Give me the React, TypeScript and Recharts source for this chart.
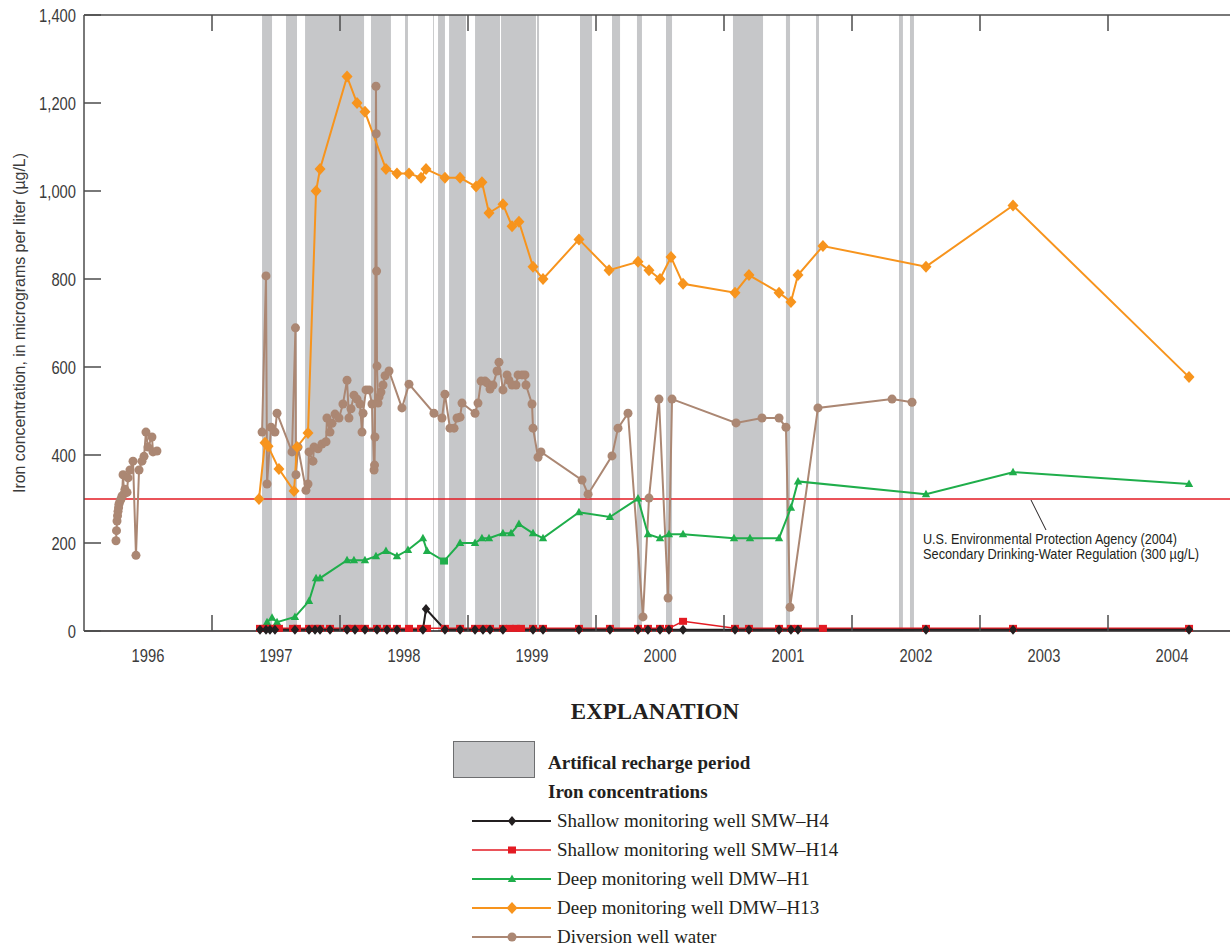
import React from 'react';
import { ComposedChart, Line, XAxis, YAxis, ReferenceArea, ReferenceLine } from 'recharts';

/* Iron concentrations in monitoring wells and diversion well water, 1996-2004.
   Dates are decimal years, values in micrograms per liter. */

const YEAR_TICKS = [1996, 1997, 1998, 1999, 2000, 2001, 2002, 2003, 2004];
const X_DOMAIN: [number, number] = [1996, 2005];
const Y_TICKS = [0, 200, 400, 600, 800, 1000, 1200, 1400];
const SMCL = 300; // secondary drinking-water regulation, µg/L

// artificial recharge periods [start, end]
const RECHARGE: [number, number][] = [
  [1997.391, 1997.469], [1997.578, 1997.664], [1997.727, 1998.188], [1998.242, 1998.398],
  [1998.508, 1998.531], [1998.727, 1998.734], [1998.766, 1998.82], [1998.852, 1998.984],
  [1999.055, 1999.25], [1999.258, 1999.531], [1999.539, 1999.555], [1999.875, 1999.969],
  [2000.125, 2000.188], [2000.32, 2000.359], [2000.547, 2000.594], [2001.07, 2001.305],
  [2001.484, 2001.516], [2001.719, 2001.742], [2002.367, 2002.398], [2002.453, 2002.484],
];

const SMW_H4: [number, number][] = [
  [1997.375, 3], [1997.422, 3], [1997.453, 3], [1997.492, 3], [1997.648, 3], [1997.758, 3],
  [1997.805, 3], [1997.844, 3], [1997.922, 3], [1998.055, 3], [1998.117, 3], [1998.195, 3],
  [1998.289, 3], [1998.367, 3], [1998.445, 3], [1998.648, 3], [1998.672, 50], [1998.82, 3],
  [1998.938, 3], [1999.055, 3], [1999.117, 3], [1999.172, 3], [1999.273, 3], [1999.508, 3],
  [1999.586, 3], [1999.867, 3], [2000.109, 3], [2000.328, 3], [2000.406, 3], [2000.5, 3],
  [2000.57, 3], [2000.68, 3], [2001.086, 3], [2001.195, 3], [2001.43, 3], [2001.523, 3],
  [2001.578, 3], [2002.578, 3], [2003.258, 3], [2004.633, 3],
];

const SMW_H14: [number, number][] = [
  [1997.375, 6], [1997.414, 6], [1997.453, 6], [1997.492, 6], [1997.523, 6], [1997.633, 6],
  [1997.664, 6], [1997.758, 6], [1997.805, 6], [1997.844, 6], [1997.922, 6], [1998.055, 6],
  [1998.094, 6], [1998.141, 6], [1998.195, 6], [1998.289, 6], [1998.367, 6], [1998.445, 6],
  [1998.539, 6], [1998.633, 6], [1998.68, 6], [1998.82, 6], [1998.938, 6], [1999.055, 6],
  [1999.117, 6], [1999.172, 6], [1999.273, 6], [1999.328, 6], [1999.375, 6], [1999.414, 6],
  [1999.508, 6], [1999.586, 6], [1999.867, 6], [2000.109, 6], [2000.328, 6], [2000.406, 6],
  [2000.5, 6], [2000.57, 6], [2000.68, 22], [2001.086, 6], [2001.195, 6], [2001.43, 6],
  [2001.523, 6], [2001.578, 6], [2001.773, 6], [2002.578, 6], [2003.258, 6], [2004.633, 6],
];

const DMW_H1: [number, number][] = [
  [1997.43, 20], [1997.469, 30], [1997.508, 20], [1997.648, 32], [1997.758, 68], [1997.813, 120],
  [1997.844, 120], [1998.055, 161], [1998.109, 161], [1998.195, 161], [1998.281, 170], [1998.359, 182],
  [1998.445, 170], [1998.531, 184], [1998.648, 211], [1998.68, 182], [1998.813, 159], [1998.938, 200],
  [1999.055, 200], [1999.109, 211], [1999.164, 211], [1999.273, 222], [1999.336, 222], [1999.398, 243],
  [1999.508, 222], [1999.586, 211], [1999.867, 270], [2000.109, 259], [2000.328, 301], [2000.406, 220],
  [2000.5, 211], [2000.57, 220], [2000.68, 220], [2001.078, 211], [2001.203, 211], [2001.43, 211],
  [2001.523, 280], [2001.578, 340], [2002.578, 311], [2003.258, 361], [2004.633, 334],
];
// one DMW-H1 sample plotted with a square symbol
const DMW_H1_SQUARE = [1998.813];

const DMW_H13: [number, number][] = [
  [1997.367, 300], [1997.414, 428], [1997.438, 420], [1997.523, 368], [1997.641, 318], [1997.664, 418],
  [1997.75, 450], [1997.813, 1000], [1997.844, 1050], [1998.055, 1260], [1998.133, 1200], [1998.195, 1180],
  [1998.359, 1050], [1998.445, 1040], [1998.539, 1040], [1998.633, 1030], [1998.672, 1050], [1998.82, 1030],
  [1998.938, 1030], [1999.063, 1010], [1999.109, 1020], [1999.164, 950], [1999.273, 970], [1999.344, 920],
  [1999.398, 930], [1999.508, 828], [1999.586, 800], [1999.867, 890], [2000.102, 820], [2000.328, 839],
  [2000.414, 820], [2000.5, 800], [2000.586, 850], [2000.68, 789], [2001.086, 769], [2001.195, 809],
  [2001.43, 769], [2001.523, 748], [2001.578, 809], [2001.773, 875], [2002.578, 828], [2003.258, 967],
  [2004.633, 577],
];

const DIVERSION: [number, number | null][] = [
  [1996.25, 205], [1996.254, 228], [1996.258, 250], [1996.262, 262], [1996.266, 272], [1996.27, 280],
  [1996.273, 288], [1996.281, 295], [1996.289, 300], [1996.297, 307], [1996.305, 355], [1996.313, 312],
  [1996.32, 322], [1996.336, 315], [1996.344, 348], [1996.359, 366], [1996.383, 386], [1996.406, 172],
  [1996.43, 366], [1996.453, 386], [1996.469, 397], [1996.484, 452], [1996.5, 418], [1996.531, 441],
  [1996.539, 407], [1996.57, 409], [1997.0, null],
  [1997.391, 452], [1997.422, 807], [1997.43, 334], [1997.461, 463], [1997.492, 452], [1997.508, 495],
  [1997.625, 407], [1997.652, 689], [1997.656, 355], [1997.672, 418], [1997.734, 320], [1997.75, 334],
  [1997.758, 407], [1997.789, 386], [1997.797, 418], [1997.828, 414], [1997.859, 425], [1997.891, 430],
  [1997.898, 484], [1997.922, 452], [1997.938, 472], [1997.961, 493], [1997.992, 484], [1998.023, 516],
  [1998.055, 570], [1998.07, 484], [1998.086, 505], [1998.109, 536], [1998.133, 527], [1998.156, 516],
  [1998.172, 452], [1998.18, 495], [1998.203, 548], [1998.227, 548], [1998.25, 516], [1998.266, 366],
  [1998.27, 377], [1998.273, 441], [1998.281, 1238], [1998.283, 1130], [1998.286, 818], [1998.289, 602],
  [1998.297, 518], [1998.305, 532], [1998.32, 543], [1998.336, 559], [1998.352, 580], [1998.383, 591],
  [1998.484, 507], [1998.539, 561], [1998.734, 495], [1998.797, 484], [1998.82, 538], [1998.859, 461],
  [1998.891, 461], [1998.914, 484], [1998.938, 486], [1998.953, 518], [1999.055, 495], [1999.078, 518],
  [1999.102, 568], [1999.133, 568], [1999.148, 564], [1999.172, 550], [1999.195, 559], [1999.227, 591],
  [1999.242, 611], [1999.273, 548], [1999.305, 582], [1999.32, 570], [1999.344, 559], [1999.375, 559],
  [1999.391, 582], [1999.422, 582], [1999.445, 582], [1999.453, 559], [1999.5, 516], [1999.508, 461],
  [1999.547, 395], [1999.57, 407], [1999.891, 343], [1999.938, 311], [2000.125, 398], [2000.172, 461],
  [2000.25, 495], [2000.367, 32], [2000.414, 302], [2000.492, 527], [2000.563, 75], [2000.594, 527],
  [2001.094, 473], [2001.297, 484], [2001.43, 484], [2001.484, 463], [2001.516, 54], [2001.734, 507],
  [2002.313, 527], [2002.469, 520],
];

const BLACK = '#231f20';
const RED = '#e31b23';
const GREEN = '#1fae4b';
const ORANGE = '#f7941d';
const BROWN = '#ab8773';
const BAND = '#c6c7c9';
const AXIS_GRAY = '#4d4d4d';
const TEXT_GRAY = '#3b3b3b';

// no condensed face is installed, so the sans labels are squeezed horizontally
const SANS = "'Liberation Sans', Arial, sans-serif";
const SQUEEZE = 0.82;
const SERIF = "'Liberation Serif', 'Times New Roman', serif";

const CHART_W = 1240;
const CHART_H = 680;
const LEFT_W = 84;
const RIGHT_W = 4;
const YEAR_PX = (CHART_W - LEFT_W - RIGHT_W) / (X_DOMAIN[1] - X_DOMAIN[0]);
const TICK_LEN = 16;

type Marker = 'diamond' | 'smallDiamond' | 'square' | 'triangle' | 'circle';

function drawMarker(kind: Marker, cx: number, cy: number, fill: string, key?: React.Key) {
  switch (kind) {
    case 'diamond':
      return <path key={key} d={`M${cx},${cy - 6}L${cx + 5.5},${cy}L${cx},${cy + 6}L${cx - 5.5},${cy}Z`} fill={fill} />;
    case 'smallDiamond':
      return <path key={key} d={`M${cx},${cy - 5}L${cx + 4.2},${cy}L${cx},${cy + 5}L${cx - 4.2},${cy}Z`} fill={fill} />;
    case 'square':
      return <rect key={key} x={cx - 4} y={cy - 3.5} width={8} height={7} fill={fill} />;
    case 'triangle':
      return <path key={key} d={`M${cx},${cy - 4.5}L${cx + 4.2},${cy + 3}L${cx - 4.2},${cy + 3}Z`} fill={fill} />;
    default:
      return <circle key={key} cx={cx} cy={cy} r={4.5} fill={fill} />;
  }
}

const dotOf = (kind: Marker, fill: string, squareAt: number[] = []) => (p: any) => {
  const { cx, cy, index, payload } = p;
  if (cx == null || cy == null || payload?.v == null || Number.isNaN(cy)) return <g key={index} />;
  const k = squareAt.includes(payload.t) ? 'square' : kind;
  return drawMarker(k, cx, cy, fill, index);
};

const rows = (pairs: [number, number | null][]) => pairs.map(([t, v]) => ({ t, v }));

const SERIES = [
  { key: 'div', name: 'Diversion well water', data: rows(DIVERSION), color: BROWN, marker: 'circle' as Marker, width: 2 },
  { key: 'h13', name: 'Deep monitoring well DMW\u2013H13', data: rows(DMW_H13), color: ORANGE, marker: 'diamond' as Marker, width: 2 },
  { key: 'h1', name: 'Deep monitoring well DMW\u2013H1', data: rows(DMW_H1), color: GREEN, marker: 'triangle' as Marker, width: 2 },
  { key: 'h14', name: 'Shallow monitoring well SMW\u2013H14', data: rows(SMW_H14), color: RED, marker: 'square' as Marker, width: 1.5 },
  { key: 'h4', name: 'Shallow monitoring well SMW\u2013H4', data: rows(SMW_H4), color: BLACK, marker: 'smallDiamond' as Marker, width: 2 },
];

// legend lists the wells top-down in the reverse of drawing order
const LEGEND_ORDER = ['h4', 'h14', 'h1', 'h13', 'div'];

function NarrowText({ x, y, anchor = 'start', size, fill = TEXT_GRAY, children }: any) {
  return (
    <text transform={`translate(${x} ${y}) scale(${SQUEEZE} 1)`} x={0} y={0} textAnchor={anchor}
      fontFamily={SANS} fontSize={size} fill={fill}>
      {children}
    </text>
  );
}

function BottomTick({ x, y, payload }: any) {
  const yr = payload.value;
  return (
    <g>
      {yr > X_DOMAIN[0] && <line x1={x} x2={x} y1={y} y2={y - TICK_LEN} stroke={AXIS_GRAY} strokeWidth={1.5} />}
      <NarrowText x={x + YEAR_PX / 2} y={y + 31} anchor="middle" size={18}>{yr}</NarrowText>
    </g>
  );
}

function TopTick({ x, y, payload }: any) {
  if (payload.value <= X_DOMAIN[0]) return <g />;
  return <line x1={x} x2={x} y1={y} y2={y + TICK_LEN} stroke={AXIS_GRAY} strokeWidth={1.5} />;
}

function LeftTick({ x, y, payload }: any) {
  return (
    <g>
      <line x1={x} x2={x + TICK_LEN + 1} y1={y} y2={y} stroke={AXIS_GRAY} strokeWidth={1.5} />
      <NarrowText x={x - 8} y={y + 7} anchor="end" size={18}>{payload.value.toLocaleString('en-US')}</NarrowText>
    </g>
  );
}

function RightTick({ x, y }: any) {
  return <line x1={x} x2={x - TICK_LEN} y1={y} y2={y} stroke={AXIS_GRAY} strokeWidth={1.5} />;
}

function YTitle({ viewBox }: any) {
  const cy = viewBox.y + viewBox.height / 2;
  return (
    <text x={19} y={cy} transform={`rotate(-90 19 ${cy})`} textAnchor="middle" dominantBaseline="central"
      fontFamily={SANS} fontSize={16} fill={TEXT_GRAY} textLength={340} lengthAdjust="spacingAndGlyphs">
      Iron concentration, in micrograms per liter (µg/L)
    </text>
  );
}

function Explanation() {
  const rowY = [821, 850, 879, 908, 937];
  return (
    <svg width={1230} height={947} style={{ position: 'absolute', left: 0, top: 0, pointerEvents: 'none' }}>
      {/* leader and note for the 300 µg/L regulation line */}
      <line x1={1031} y1={500} x2={1046} y2={530} stroke={BLACK} strokeWidth={1} />
      <text x={923} y={544} fontFamily={SANS} fontSize={14.5} fill={BLACK} textLength={254} lengthAdjust="spacingAndGlyphs">
        U.S. Environmental Protection Agency (2004)
      </text>
      <text x={923} y={559} fontFamily={SANS} fontSize={14.5} fill={BLACK} textLength={276} lengthAdjust="spacingAndGlyphs">
        Secondary Drinking-Water Regulation (300 µg/L)
      </text>

      <text x={655} y={719} textAnchor="middle" fontFamily={SERIF} fontWeight="bold" fontSize={23} fill={BLACK}>
        EXPLANATION
      </text>
      <rect x={453.5} y={741.5} width={81} height={36} fill={BAND} stroke="#6d6e70" strokeWidth={1} />
      <text x={548} y={769} fontFamily={SERIF} fontWeight="bold" fontSize={19} fill={BLACK}>Artifical recharge period</text>
      <text x={548} y={798} fontFamily={SERIF} fontWeight="bold" fontSize={19} fill={BLACK}>Iron concentrations</text>
      {LEGEND_ORDER.map((k, i) => {
        const s = SERIES.find((d) => d.key === k)!;
        const cy = rowY[i];
        return (
          <g key={k}>
            <line x1={472} x2={551} y1={cy} y2={cy} stroke={s.color} strokeWidth={s.width} />
            {drawMarker(s.marker, 512, cy, s.color)}
            <text x={557} y={cy + 6} fontFamily={SERIF} fontSize={19} fill={BLACK}>{s.name}</text>
          </g>
        );
      })}
    </svg>
  );
}

export default function App() {
  return (
    <div style={{ position: 'fixed', left: 0, top: 0, width: 1230, height: 947, overflow: 'hidden', background: '#fff' }}>
      <ComposedChart width={CHART_W} height={CHART_H} margin={{ top: 0, right: 0, bottom: 0, left: 0 }}>
        <XAxis xAxisId="top" orientation="top" type="number" dataKey="t" domain={X_DOMAIN} ticks={YEAR_TICKS}
          interval={0} height={15} tickSize={0} tickMargin={0} tick={<TopTick />} tickLine={false}
          axisLine={{ stroke: AXIS_GRAY, strokeWidth: 1.5 }} allowDataOverflow />
        <XAxis type="number" dataKey="t" domain={X_DOMAIN} ticks={YEAR_TICKS} interval={0} height={49}
          tickSize={0} tickMargin={0} tick={<BottomTick />} tickLine={false}
          axisLine={{ stroke: BLACK, strokeWidth: 1.5 }} allowDataOverflow />
        <YAxis type="number" domain={[0, 1400]} ticks={Y_TICKS} interval={0} width={LEFT_W} tickSize={0}
          tickMargin={0} tick={<LeftTick />} tickLine={false} axisLine={{ stroke: AXIS_GRAY, strokeWidth: 1.5 }}
          label={{ content: (p: any) => <YTitle {...p} /> }} />
        <YAxis yAxisId="right" orientation="right" type="number" domain={[0, 1400]} ticks={Y_TICKS} interval={0}
          width={RIGHT_W} tickSize={0} tickMargin={0} tick={<RightTick />} tickLine={false} axisLine={false} />

        {RECHARGE.map(([a, b], i) => (
          <ReferenceArea key={`rc-${i}`} x1={a} x2={b} y1={0} y2={1400} fill={BAND} fillOpacity={1} stroke="none" />
        ))}
        <ReferenceLine y={SMCL} stroke={RED} strokeWidth={1.5} />

        {SERIES.map((s) => (
          <Line key={s.key} data={s.data} dataKey="v" name={s.name} type="linear" stroke={s.color}
            strokeWidth={s.width} dot={dotOf(s.marker, s.color, s.key === 'h1' ? DMW_H1_SQUARE : [])}
            activeDot={false} connectNulls={false} isAnimationActive={false} />
        ))}
      </ComposedChart>
      <Explanation />
    </div>
  );
}
